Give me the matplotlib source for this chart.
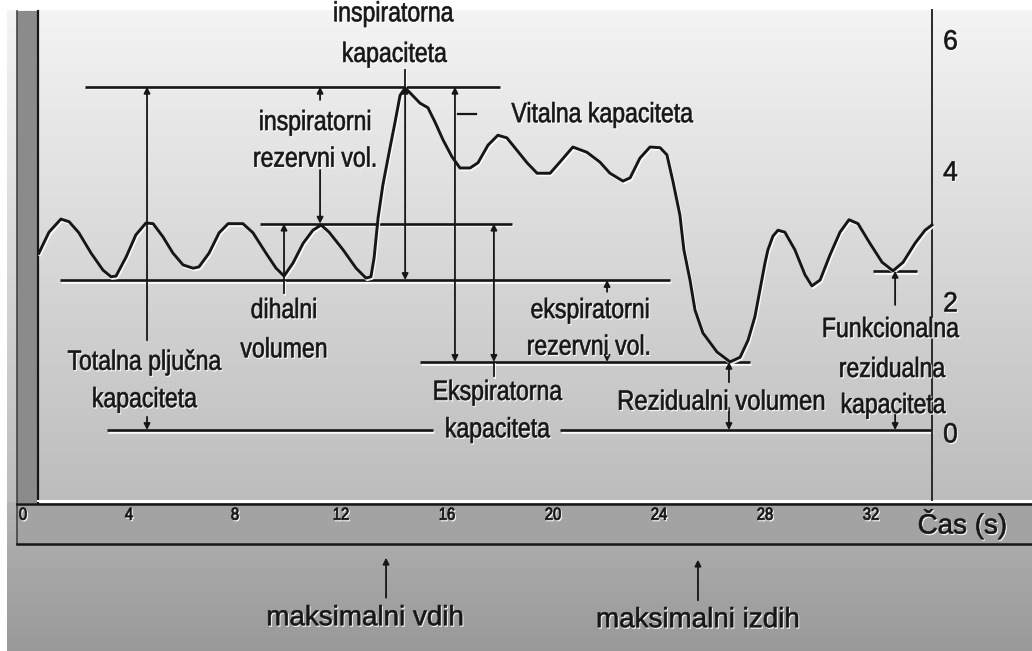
import numpy as np
import matplotlib
matplotlib.use("Agg")
import matplotlib.pyplot as plt
import matplotlib.patheffects as pe
from matplotlib.transforms import Affine2D
from matplotlib import font_manager as fm

# ---------------- data (time in s, volume in L) ----------------
time_s = [0.60, 0.98, 1.43, 1.74, 2.11, 2.57, 3.02, 3.32, 3.51, 3.89, 4.26, 4.64,
          4.91, 5.28, 5.66, 6.04, 6.42, 6.64, 7.02, 7.40, 7.74, 8.30, 8.68, 9.17,
          9.55, 9.85, 10.19, 10.57, 10.94, 11.25, 11.55, 12.08, 12.57, 12.94, 13.13,
          13.25, 13.40, 13.58, 13.85, 14.04, 14.23, 14.42, 14.60, 14.98, 15.28, 15.55,
          15.85, 16.19, 16.49, 16.87, 17.17, 17.55, 17.92, 18.26, 18.64, 19.02, 19.40,
          19.89, 20.26, 20.75, 21.28, 21.77, 22.15, 22.64, 22.91, 23.28, 23.66, 24.04,
          24.30, 24.53, 24.79, 24.94, 25.17, 25.36, 25.66, 26.19, 26.68, 27.06, 27.36,
          27.62, 27.81, 28.00, 28.11, 28.30, 28.49, 28.75, 29.13, 29.51, 29.77, 30.08,
          30.45, 30.83, 31.17, 31.51, 31.96, 32.42, 32.83, 33.21, 33.66, 34.04, 34.30]
volume_l = [2.70, 3.02, 3.22, 3.18, 3.01, 2.70, 2.44, 2.34, 2.35, 2.64, 2.98, 3.16,
            3.15, 2.95, 2.70, 2.52, 2.47, 2.49, 2.70, 3.01, 3.15, 3.15, 3.01, 2.70,
            2.47, 2.35, 2.55, 2.85, 3.05, 3.13, 3.02, 2.75, 2.47, 2.32, 2.34,
            2.63, 3.24, 3.74, 4.31, 4.70, 5.11, 5.22, 5.15, 4.99, 4.92, 4.70,
            4.43, 4.17, 4.00, 4.00, 4.08, 4.35, 4.50, 4.46, 4.27, 4.08, 3.92,
            3.92, 4.09, 4.32, 4.24, 4.09, 3.92, 3.80, 3.85, 4.15, 4.32, 4.31,
            4.20, 3.79, 3.28, 2.75, 2.29, 1.83, 1.48, 1.19, 1.04, 1.11, 1.37,
            1.73, 2.14, 2.55, 2.75, 2.96, 3.05, 3.02, 2.75, 2.37, 2.20, 2.29,
            2.67, 3.02, 3.21, 3.15, 2.85, 2.56, 2.43, 2.56, 2.85, 3.05, 3.13]

# volume levels (L)
TLC_LEVEL = 5.24      # total lung capacity
EIL_LEVEL = 3.15      # end of tidal inspiration
FRC_LEVEL = 2.29      # end of tidal expiration
RV_LEVEL = 1.04       # residual volume
ZERO_LEVEL = 0.0
FRC_MARK = 2.43

x_ticks = [0, 4, 8, 12, 16, 20, 24, 28, 32]
y_ticks = [0, 2, 4, 6]

# ---------------- fonts ----------------
def has_font(name):
    try:
        fm.findfont(fm.FontProperties(family=name), fallback_to_default=False)
        return True
    except Exception:
        return False

if has_font("Liberation Sans Narrow"):
    FONT, NARROW = "Liberation Sans Narrow", 1.0
else:
    FONT, NARROW = "Liberation Sans", 0.83
REG = "Liberation Sans"
FS = 20
plt.rcParams["font.family"] = [REG, "DejaVu Sans"]

INK = "#161616"
W, H = 1032, 651


class Squeeze(pe.AbstractPathEffect):
    """Draw text horizontally condensed, slightly heavier, with a light emboss."""

    def __init__(self, sx=1.0, anchor="center", shadow=True, weight=0.45):
        super().__init__()
        self.sx, self.anchor, self.shadow, self.weight = sx, anchor, shadow, weight

    def draw_path(self, renderer, gc, tpath, affine, rgbFace=None):
        ext = tpath.get_extents(affine)
        if self.anchor == "left":
            x0 = ext.x0
        elif self.anchor == "right":
            x0 = ext.x1
        else:
            x0 = 0.5 * (ext.x0 + ext.x1)
        aff = affine + Affine2D().translate(-x0, 0).scale(self.sx, 1).translate(x0, 0)
        if self.shadow:
            gc0 = renderer.new_gc()
            gc0.copy_properties(gc)
            gc0.set_foreground("white")
            gc0.set_linewidth(self.weight)
            gc0.set_alpha(0.85)
            renderer.draw_path(gc0, tpath, aff + Affine2D().translate(1.0, -1.2),
                               (1, 1, 1, 0.85))
            gc0.restore()
        gc1 = renderer.new_gc()
        gc1.copy_properties(gc)
        gc1.set_foreground(rgbFace)
        gc1.set_linewidth(self.weight)
        gc1.set_joinstyle("round")
        renderer.draw_path(gc1, tpath, aff, rgbFace)
        gc1.restore()


fig = plt.figure(figsize=(W / 100, H / 100), dpi=100, facecolor="white")

# ---------------- background (decorative panel, pixel coords) ----------------
bg = fig.add_axes([0, 0, 1, 1])
bg.set_xlim(0, W)
bg.set_ylim(H, 0)
bg.axis("off")

def vgrad(x0, x1, y0, y1, c0, c1, z=0):
    vals = np.linspace(c0, c1, 64)
    img = np.repeat(vals[:, None, None], 3, axis=2)
    bg.imshow(img, extent=[x0, x1, y1, y0], aspect="auto", zorder=z,
              interpolation="bilinear")

vgrad(7, W, 10, 502, 0.955, 0.74)       # main panel
vgrad(7, W, 545, H, 0.67, 0.60)         # lower panel
vgrad(7, 17, 502, 545, 0.70, 0.68)
bg.add_patch(plt.Rectangle((17, 503), W - 17, 41, facecolor="#a3a3a3",
                           edgecolor="none", zorder=1))
bg.add_patch(plt.Rectangle((17, 11), 21, 492, facecolor="#8b8b8b",
                           edgecolor="none", zorder=1))
bg.plot([38, 38], [11, 503], color=INK, lw=1.6, zorder=2)
bg.plot([17, 17], [11, 544], color="#444444", lw=1.2, zorder=2)
bg.plot([38, W], [501, 501], color="white", lw=1.5, zorder=2)
bg.plot([17, W], [503.5, 503.5], color=INK, lw=1.8, zorder=2)
bg.plot([17, W], [544, 544], color=INK, lw=1.8, zorder=2)
bg.set_zorder(0)

# ---------------- main axes in data units ----------------
ax = fig.add_axes([0, 0, 1, 1])
ax.set_zorder(1)
ax.patch.set_alpha(0)
ax.set_xlim(-23 / 26.5, (W - 23) / 26.5)
ax.set_ylim((430 - H) / 65.5, 430 / 65.5)
ax.axis("off")

line_fx = [pe.SimpleLineShadow(offset=(0.8, -1.2), shadow_color="white", alpha=0.9),
           pe.Normal()]

def hline(y, x0, x1, lw=1.9):
    ax.plot([x0, x1], [y, y], color=INK, lw=lw, solid_capstyle="butt",
            path_effects=line_fx, zorder=3)

def vline(x, y0, y1, lw=1.3):
    ax.plot([x, x], [y0, y1], color=INK, lw=lw, path_effects=line_fx, zorder=3)

def arrow(x, y_from, y_to, both=False, lw=1.3):
    ax.annotate("", xy=(x, y_to), xytext=(x, y_from),
                arrowprops=dict(arrowstyle="<|-|>" if both else "-|>", color=INK,
                                lw=lw, shrinkA=0, shrinkB=0, mutation_scale=9),
                zorder=4)

def label(s, x, y, ha="center", size=FS, narrow=True, sx=None, weight=0.45):
    fam = [FONT, "DejaVu Sans"] if narrow else [REG, "DejaVu Sans"]
    if sx is None:
        sx = NARROW if narrow else 1.0
    ax.text(x, y, s, ha=ha, va="baseline", fontsize=size, color=INK, family=fam,
            path_effects=[Squeeze(sx, anchor=ha, weight=weight)], zorder=5)

# spirogram curve
ax.plot(time_s, volume_l, color=INK, lw=2.1, solid_joinstyle="round",
        path_effects=line_fx, zorder=4)

# level lines
hline(TLC_LEVEL, 2.34, 18.0)
hline(EIL_LEVEL, 8.94, 18.45)
hline(FRC_LEVEL, 1.40, 24.42)
hline(RV_LEVEL, 14.98, 27.43)
hline(ZERO_LEVEL, 3.17, 15.47)
hline(ZERO_LEVEL, 20.26, 34.30)
hline(FRC_MARK, 32.08, 33.74)

# value axis
ax.plot([34.30, 34.30], [-1.07, 6.41], color="#2a2a2a", lw=1.4, zorder=3)
for v in y_ticks:
    label(str(v), 34.72, v - 0.19, ha="left", narrow=False, sx=0.95)
for t in x_ticks:
    label(str(t), t, -1.37, size=12.5, sx=0.85, weight=0.6)
label("Čas (s)", 35.45, -1.58, narrow=False)

# Totalna pljučna kapaciteta
arrow(4.68, 1.37, TLC_LEVEL)
arrow(4.68, 0.20, ZERO_LEVEL)
label("Totalna pljučna", 4.57, 0.92)
label("kapaciteta", 4.57, 0.35)

# inspiratorni rezervni vol.
arrow(11.21, 5.04, TLC_LEVEL)
arrow(11.21, 3.97, EIL_LEVEL)
label("inspiratorni", 11.02, 4.58)
label("rezervni vol.", 11.02, 4.02)

# dihalni volumen
arrow(9.85, FRC_LEVEL, EIL_LEVEL)
vline(9.85, FRC_LEVEL, 2.09)
label("dihalni", 9.85, 1.71)
label("volumen", 9.85, 1.11)

# inspiratorna kapaciteta
arrow(14.42, FRC_LEVEL, TLC_LEVEL, both=True)
vline(14.42, TLC_LEVEL, 5.50)
label("inspiratorna", 13.96, 6.24)
label("kapaciteta", 14.0, 5.62)

# vitalna kapaciteta
arrow(16.30, RV_LEVEL, TLC_LEVEL, both=True)
ax.plot([16.42, 17.09], [4.83, 4.83], color=INK, lw=1.6, zorder=3)
label("Vitalna kapaciteta", 18.43, 4.70, ha="left")

# ekspiratorna kapaciteta
arrow(17.77, RV_LEVEL, EIL_LEVEL, both=True)
vline(17.77, RV_LEVEL, 0.82)
label("Ekspiratorna", 17.89, 0.46)
label("kapaciteta", 17.89, -0.11)

# ekspiratorni rezervni vol.
arrow(22.04, 2.11, FRC_LEVEL)
arrow(22.04, 1.22, RV_LEVEL)
label("ekspiratorni", 21.40, 1.71)
label("rezervni vol.", 21.35, 1.15)

# rezidualni volumen
arrow(26.64, 0.73, RV_LEVEL)
arrow(26.64, 0.34, ZERO_LEVEL)
label("Rezidualni volumen", 30.28, 0.31, ha="right", sx=0.86)

# funkcionalna rezidualna kapaciteta
arrow(32.91, 1.91, FRC_MARK)
arrow(32.91, 0.24, ZERO_LEVEL)
label("Funkcionalna", 32.72, 1.42)
label("rezidualna", 32.78, 0.81)
label("kapaciteta", 32.82, 0.26)

# markers below the time axis
arrow(13.70, -2.56, -1.95)
label("maksimalni vdih", 12.91, -2.98, narrow=False)
arrow(25.47, -2.60, -1.98)
label("maksimalni izdih", 25.47, -3.01, narrow=False)

fig.savefig("out.png", dpi=100, facecolor="white")
